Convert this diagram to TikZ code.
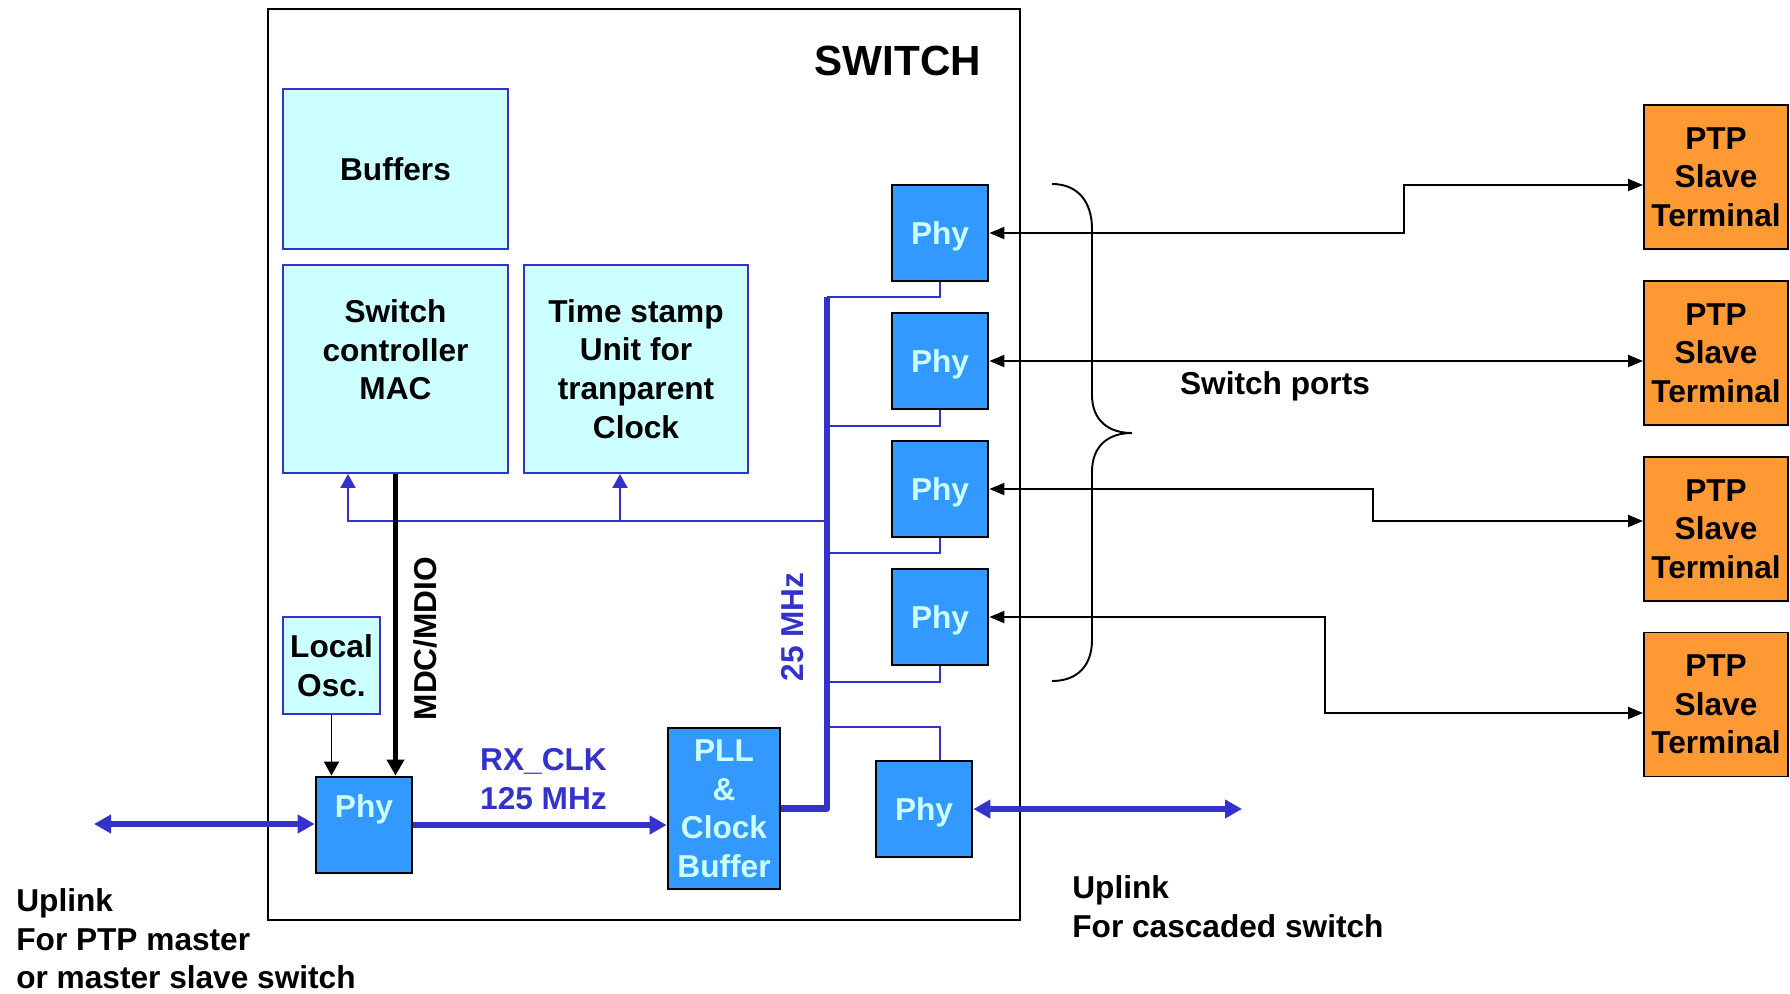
\documentclass[tikz,border=0pt]{standalone}
\usepackage{fontspec}
\setmainfont{Liberation Sans}
\usetikzlibrary{arrows.meta, calc}
\definecolor{unitcyan}{HTML}{CCFFFF}
\definecolor{unitblue}{HTML}{3333CC}
\definecolor{phyblue}{HTML}{3399FF}
\definecolor{ptporange}{HTML}{FF9933}

\begin{document}
\begin{tikzpicture}[
    x=0.2mm, y=-0.2mm,
    every node/.style={font=\bfseries\fontsize{18}{22}\selectfont},
    unit/.style={draw=unitblue, fill=unitcyan, line width=1.1pt, align=center, inner sep=0pt},
    phy/.style={draw=black, fill=phyblue, text=unitcyan, line width=1.6pt, align=center, inner sep=0pt,
                text depth=0pt, minimum width=1.92cm, minimum height=1.92cm},
    term/.style={draw=black, fill=ptporange, line width=1.1pt, align=center, inner sep=0pt,
                 minimum width=2.88cm, minimum height=2.88cm},
    port/.style={{Triangle[length=0.3cm,width=0.24cm]}-{Triangle[length=0.3cm,width=0.24cm]}, line width=1.1pt},
    tap/.style={unitblue, line width=1.1pt},
    wide/.style={unitblue, line width=3.1pt, arrows={-Triangle[length=0.34cm,width=0.36cm]}},
    wide2/.style={unitblue, line width=3.1pt, arrows={Triangle[length=0.34cm,width=0.36cm]-Triangle[length=0.34cm,width=0.36cm]}},
]
\useasboundingbox (0,0) rectangle (1790,994);

% Switch frame
\node[draw=black, line width=1.1pt, minimum width=15.04cm, minimum height=18.22cm, inner sep=0pt] (switch) at (644,464.5) {};
\node[font=\bfseries\fontsize{24}{28}\selectfont] (title) at (898,61) {SWITCH};

% === Blocks inside the switch ===
\node[unit, text depth=0pt, minimum width=4.5cm, minimum height=3.2cm] (buffers) at (395.5,169) {Buffers};
\node[unit, minimum width=4.5cm, minimum height=4.16cm] (mac) at (395.5,369) {Switch\\controller\\MAC\\\mbox{}};
\node[unit, minimum width=4.48cm, minimum height=4.16cm] (tsu) at (636,369) {Time stamp\\Unit for\\tranparent\\Clock};
\node[unit, minimum width=1.94cm, minimum height=1.94cm] (osc) at (331.5,665.5) {Local\\Osc.};

\node[phy] (phyL) at (364,825) {Phy\\\mbox{}};
\node[phy, minimum width=2.24cm, minimum height=3.22cm] (pll) at (724,808.5) {PLL\\\&\\Clock\\Buffer};
\node[phy] (phyB) at (924,809) {Phy};

\node[phy] (phy1) at (940,233) {Phy};
\node[phy] (phy2) at (940,361) {Phy};
\node[phy] (phy3) at (940,489) {Phy};
\node[phy] (phy4) at (940,617) {Phy};

% === PTP terminals ===
\node[term] (ptp1) at (1716,177) {PTP\\Slave\\Terminal};
\node[term] (ptp2) at (1716,353) {PTP\\Slave\\Terminal};
\node[term] (ptp3) at (1716,529) {PTP\\Slave\\Terminal};
\node[term] (ptp4) at (1716,704.5) {PTP\\Slave\\Terminal};

% === 25 MHz clock distribution ===
\coordinate (bustop) at (827,297);
\coordinate (bus25) at (827,521);
\draw[unitblue, line width=3.6pt, line join=round] (pll.east) -| (bustop);

\draw[tap] (phy1.south) |- (bustop);
\draw[tap] (phy2.south) |- ++(-113,16);
\draw[tap] (phy3.south) |- ++(-113,15);
\draw[tap] (phy4.south) |- ++(-113,16);
\draw[tap] (phyB.north -| phy4.south) |- ++(-113,-33);

\draw[tap, -{Triangle[length=0.28cm,width=0.3cm]}] (bus25) -| ([xshift=-0.95cm]mac.south);
\draw[tap, -{Triangle[length=0.28cm,width=0.3cm]}] ([xshift=-0.32cm]tsu.south |- bus25) -- ([xshift=-0.32cm]tsu.south);
\node[text=unitblue, rotate=90] (mhz25) at (793,627) {25 MHz};

% === Management and local clock ===
\draw[line width=3.1pt, -{Triangle[length=0.32cm,width=0.34cm]}] (mac.south) -- (mac.south |- phyL.north);
\node[rotate=90] (mdc) at (425,638.5) {MDC/MDIO};
\draw[line width=1.1pt, -{Triangle[length=0.28cm,width=0.3cm]}] (osc.south) -- (osc.south |- phyL.north);

% === Receive clock ===
\draw[wide] (phyL.east) -- (phyL.east -| pll.west);
\node[text=unitblue, align=center] (rxclk) at (543.5,779) {RX\_CLK\\125 MHz};

% === Uplinks ===
\coordinate (upL) at (94,824);
\draw[wide2] (upL) -- (upL -| phyL.west);
\node[anchor=west, align=left, inner sep=0pt] (uplinkL) at (16,939) {Uplink\\For PTP master\\or master slave switch};

\coordinate (upR) at (1242,809);
\draw[wide2] (phyB.east) -- (upR);
\node[anchor=west, align=left, inner sep=0pt] (uplinkR) at (1072,907) {Uplink\\For cascaded switch};

% === Switch ports ===
\draw[port] (phy1.east) -- ++(415,0) |- ($(ptp1.west)+(0,8)$);
\draw[port] (phy2.east) -- (phy2.east -| ptp2.west);
\draw[port] (phy3.east) -- ++(384,0) |- ($(ptp3.west)+(0,-8)$);
\draw[port] (phy4.east) -- ++(336,0) |- ($(ptp4.west)+(0,8.5)$);

% Brace over the ports
\draw[line width=1.1pt] (1052,184) .. controls (1078,184) and (1092,202) .. (1092,229) -- (1092,395)
    .. controls (1092,420) and (1108,433) .. (1132,433)
    .. controls (1108,433) and (1092,446) .. (1092,472) -- (1092,640)
    .. controls (1092,665) and (1078,681) .. (1052,681);
\node[text depth=0pt] (ports) at (1275,383) {Switch ports};

\end{tikzpicture}
\end{document}
